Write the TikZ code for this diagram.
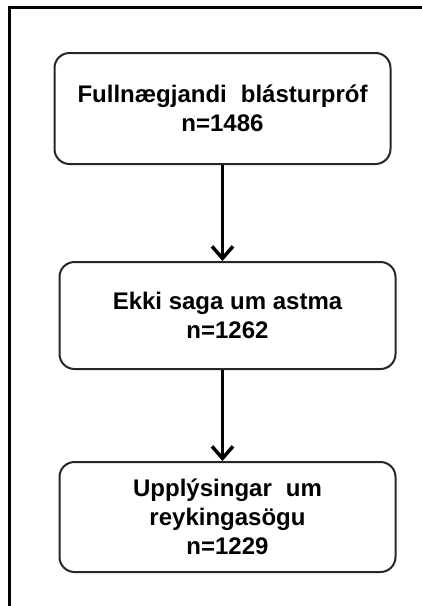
\documentclass[tikz,border=0pt]{standalone}
\usepackage{fontspec}
\setmainfont{Liberation Sans}
\usetikzlibrary{arrows.meta, positioning}
\tikzset{
  box/.style={rectangle, rounded corners=15pt, draw=black!85, line width=2pt,
              fill=white, minimum width=336pt, inner sep=0pt, align=center,
              font=\fontsize{24pt}{29pt}\selectfont\bfseries},
  arr/.style={-{Straight Barb[length=12pt, width=21pt, line width=3.5pt]},
              line width=3.5pt},
  frame/.style={draw=black, line width=3pt},
}

\begin{document}
\begin{tikzpicture}[x=1pt, y=1pt]
  \useasboundingbox (0,0) rectangle (422,-606);
  \clip (0,0) rectangle (422,-606);

  % outer frame (runs off the right and bottom)
  \draw[frame] (9,-630) -- (9,-7.5) -- (440,-7.5);

  % boxes
  \node[box, minimum height=111pt] (blastur) at (222.5,-108.5)
    {Fullnægjandi\hspace{14pt}blásturpróf\\n=1486};
  \node[box, minimum height=107pt, below=96pt of blastur, xshift=5pt] (astma)
    {Ekki saga um astma\\n=1262};
  \node[box, minimum height=110pt, below=91pt of astma] (reyking)
    {Upplýsingar\hspace{14pt}um\\reykingasögu\\n=1229};

  % arrows
  \draw[arr] (blastur.south) -- (blastur.south |- astma.north);
  \draw[arr] (astma.south -| blastur.south) -- (blastur.south |- reyking.north);
\end{tikzpicture}
\end{document}
